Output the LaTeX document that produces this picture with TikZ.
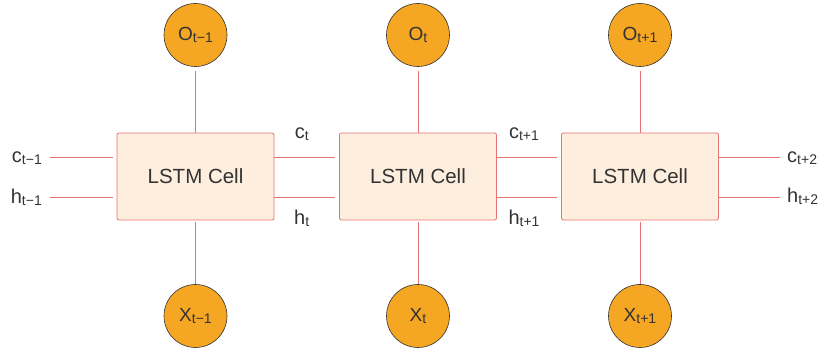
\documentclass[tikz,border=0pt]{standalone}
\usepackage{fontspec}
\setmainfont{Liberation Sans}
\usepackage{xcolor}
\definecolor{cellfill}{HTML}{FDEEDD}
\definecolor{wire}{HTML}{E57373}
\definecolor{orb}{HTML}{F5A623}
\definecolor{ink}{HTML}{333333}
\usepackage{tikz}
\usetikzlibrary{positioning, calc}

\newcommand{\lowidx}[2]{\raisebox{-0.15ex}{\fontsize{#1}{#1}\selectfont #2}}

\begin{document}
\begin{tikzpicture}[x=1pt, y=1pt,
  cellbox/.style={draw=wire, fill=cellfill, line width=0.8pt, rounded corners=2pt,
    minimum width=157pt, minimum height=87pt, inner sep=0pt,
    font=\fontsize{20.5}{20.5}\selectfont, text=ink},
  orbnode/.style={circle, draw=ink, fill=orb, line width=0.6pt, minimum size=63pt,
    inner sep=0pt, font=\fontsize{19}{19}\selectfont, text=ink},
  wireline/.style={draw=wire, line width=0.8pt},
  lbl/.style={inner sep=0pt, font=\fontsize{20}{20}\selectfont, text=ink}]

  \useasboundingbox (0,0) rectangle (830,352);

  % Cells
  \node[cellbox] (cellprev) at (195.5,175.5) {LSTM Cell};
  \node[cellbox] (cellnow)  at (418,175.5)   {LSTM Cell};
  \node[cellbox] (cellnext) at (640,175.5)   {LSTM Cell};

  % Outputs
  \node[orbnode] (outprev) at (195.5,317) {O\lowidx{14}{t−1}};
  \node[orbnode] (outnow)  at (418,317)   {O\lowidx{14}{t}};
  \node[orbnode] (outnext) at (640,317)   {O\lowidx{14}{t+1}};

  % Inputs
  \node[orbnode] (inprev) at (195.5,36) {X\lowidx{14}{t−1}};
  \node[orbnode] (innow)  at (418,36)   {X\lowidx{14}{t}};
  \node[orbnode] (innext) at (640,36)   {X\lowidx{14}{t+1}};

  % Vertical wires
  \draw[wireline, shorten <=4pt] (outprev) -- (cellprev);
  \draw[wireline, shorten <=4pt] (outnow)  -- (cellnow);
  \draw[wireline, shorten <=4pt] (outnext) -- (cellnext);
  \draw[wireline, shorten <=2pt] (cellprev) -- (inprev);
  \draw[wireline, shorten <=2pt] (cellnow)  -- (innow);
  \draw[wireline, shorten <=2pt] (cellnext) -- (innext);

  % Free ends
  \coordinate (cstart) at (50,195);
  \coordinate (hstart) at (50,155);
  \coordinate (cend) at (780,195);
  \coordinate (hend) at (780,155);

  % Cell state and hidden state wires
  \draw[wireline] (cstart) -- ([xshift=-4pt]cellprev.west |- cstart);
  \draw[wireline] (hstart) -- ([xshift=-4pt]cellprev.west |- hstart);
  \draw[wireline] (cellprev.east |- cstart) -- ([xshift=-4pt]cellnow.west |- cstart)
    node[lbl, midway, above=16pt, xshift=-3pt] {c\lowidx{14}{t}};
  \draw[wireline] (cellprev.east |- hstart) -- ([xshift=-4pt]cellnow.west |- hstart)
    node[lbl, midway, below=13pt, xshift=-3pt] {h\lowidx{14}{t}};
  \draw[wireline] (cellnow.east |- cstart) -- ([xshift=-4pt]cellnext.west |- cstart)
    node[lbl, midway, above=16pt, xshift=-3pt] {c\lowidx{14}{t+1}};
  \draw[wireline] (cellnow.east |- hstart) -- ([xshift=-4pt]cellnext.west |- hstart)
    node[lbl, midway, below=13pt, xshift=-3pt] {h\lowidx{14}{t+1}};
  \draw[wireline] (cellnext.east |- cend) -- (cend);
  \draw[wireline] (cellnext.east |- hend) -- (hend);

  % Labels at the ends
  \node[lbl, anchor=base east] (cprevlbl) at (42,189) {c\lowidx{14}{t−1}};
  \node[lbl, anchor=base east] (hprevlbl) at (42,148) {h\lowidx{14}{t−1}};
  \node[lbl, anchor=base west] (cnextlbl) at (787,189) {c\lowidx{14}{t+2}};
  \node[lbl, anchor=base west] (hnextlbl) at (787,149) {h\lowidx{14}{t+2}};

\end{tikzpicture}
\end{document}
